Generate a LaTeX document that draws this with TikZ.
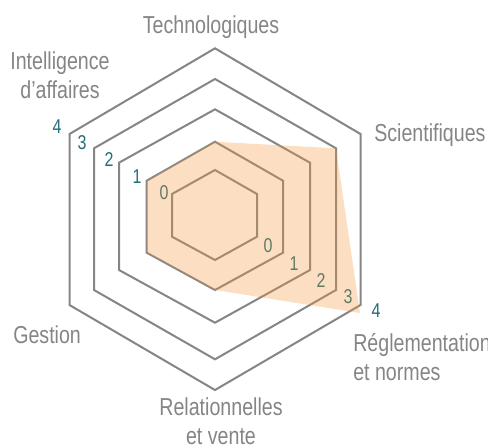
\documentclass[tikz,border=0pt]{standalone}
\usepackage{fontspec}
\setmainfont[FakeStretch=0.8]{Liberation Sans}
\usetikzlibrary{positioning}
\definecolor{gridgray}{RGB}{133,133,133}
\definecolor{numteal}{RGB}{31,111,120}
\definecolor{scoreorange}{RGB}{245,150,55}

\begin{document}
\begin{tikzpicture}[x=0.75pt,y=-0.75pt,
	grid/.style={draw=gridgray,line width=1.5pt,line join=miter},
	axislabel/.style={text=gridgray,inner sep=0pt,font=\fontsize{18.4pt}{21.75pt}\selectfont},
	levelnum/.style={text=numteal,inner sep=0pt,font=\fontsize{15pt}{18pt}\selectfont}]
	\useasboundingbox (0,0) rectangle (488,444);

	% hexagon rings, level 4 outside to level 0 inside
	\draw [grid] (215,48.3) -- (360.5,134) -- (360.5,305) -- (215,390) -- (69.5,305) -- (69.5,134) -- cycle;
	\draw [grid] (215,79) -- (336,148.3) -- (336,290) -- (215,359.3) -- (94,290) -- (94,148.3) -- cycle;
	\draw [grid] (215,109.3) -- (310,162.7) -- (310,270) -- (215,322.7) -- (119,270) -- (119,162.7) -- cycle;
	\draw [grid] (215,141.7) -- (283,180.7) -- (283,252.7) -- (215,290) -- (146.7,252.7) -- (146.7,180.7) -- cycle;
	\draw [grid] (215,170) -- (257,194) -- (257,236.7) -- (215,260) -- (172,236.7) -- (172,194) -- cycle;

	% scale numbers
	\node [levelnum] at (57,127) (nl4) {4};
	\node [levelnum] at (82,143) (nl3) {3};
	\node [levelnum] at (109,160) (nl2) {2};
	\node [levelnum] at (137,177) (nl1) {1};
	\node [levelnum] at (164,193) (nl0) {0};
	\node [levelnum] at (268,246) (nr0) {0};
	\node [levelnum] at (294,264) (nr1) {1};
	\node [levelnum] at (321,281) (nr2) {2};
	\node [levelnum] at (348,297) (nr3) {3};
	\node [levelnum] at (376,311) (nr4) {4};

	% axis labels (two-line ones sit on their last baseline)
	\node [axislabel,anchor=base] at (211,33) (tech) {Technologiques};
	\node [axislabel,anchor=base west] at (374,141) (sci) {Scientifiques};
	\node [axislabel,anchor=base west,align=left] at (353,380) (regl) {Réglementation\\et normes};
	\node [axislabel,anchor=base,align=center] at (221,444) (rel) {Relationnelles\\et vente};
	\node [axislabel,anchor=base west] at (13,343) (gest) {Gestion};
	\node [axislabel,anchor=base,align=center] at (60,98) (intel) {Intelligence\\d’affaires};

	% score area
	\fill [scoreorange,opacity=0.3] (215,141.7) -- (336,148.3) -- (360,313) -- (215,290) -- (146.7,252.7) -- (146.7,180.7) -- cycle;
\end{tikzpicture}
\end{document}
